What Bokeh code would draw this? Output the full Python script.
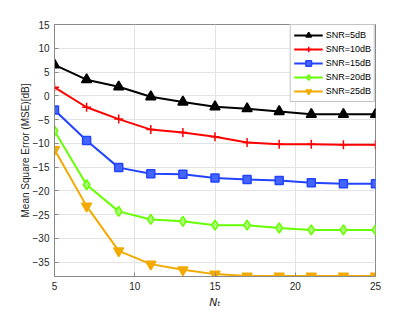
from bokeh.plotting import figure
from bokeh.models import Range1d, FixedTicker, Legend
from bokeh.embed import file_html
from bokeh.resources import INLINE

nt = [5, 7, 9, 11, 13, 15, 17, 19, 21, 23, 25]
snr5 = [6.5, 3.4, 1.9, -0.2, -1.3, -2.3, -2.7, -3.3, -3.9, -3.9, -3.9]
snr10 = [1.8, -2.4, -4.9, -7.1, -7.7, -8.6, -9.8, -10.2, -10.2, -10.3, -10.3]
snr15 = [-3.0, -9.4, -15.1, -16.4, -16.5, -17.3, -17.6, -17.8, -18.3, -18.5, -18.5]
snr20 = [-7.4, -18.7, -24.3, -26.0, -26.4, -27.2, -27.2, -27.8, -28.2, -28.2, -28.2]
snr25 = [-11.3, -23.2, -32.6, -35.4, -36.6, -37.5, -37.9, -37.9, -37.9, -37.9, -37.9]
labels = ["SNR=5dB", "SNR=10dB", "SNR=15dB", "SNR=20dB", "SNR=25dB"]
xticks = [5, 10, 15, 20, 25]
yticks = [-35, -30, -25, -20, -15, -10, -5, 0, 5, 10, 15]

FONT = "Liberation Sans"

p = figure(width=405, height=313, output_backend="svg", toolbar_location=None,
           x_range=Range1d(5, 25), y_range=Range1d(-38, 15),
           min_border_left=54, min_border_right=30, min_border_top=24, min_border_bottom=37)
p.background_fill_color = "white"
p.border_fill_color = "white"
p.outline_line_color = "#8a8a8a"
p.outline_line_width = 1

for ax in (p.xaxis[0], p.yaxis[0]):
    ax.major_label_text_font = FONT
    ax.major_label_text_font_size = "10px"
    ax.major_label_text_color = "#262626"
    ax.axis_line_color = "#8a8a8a"
    ax.major_tick_line_color = "#8a8a8a"
    ax.major_tick_in = 4
    ax.major_tick_out = 0
    ax.minor_tick_line_color = None
p.xaxis.ticker = FixedTicker(ticks=xticks)
p.yaxis.ticker = FixedTicker(ticks=yticks)
p.xaxis.major_label_standoff = 5
p.yaxis.major_label_standoff = 5
p.xaxis.axis_label = "N\u209c"
p.xaxis.axis_label_text_font = "DejaVu Sans"
p.xaxis.axis_label_text_font_size = "11px"
p.xaxis.axis_label_text_font_style = "italic"
p.xaxis.axis_label_text_color = "#262626"
p.xaxis.axis_label_standoff = 3
p.yaxis.axis_label = "Mean Square Error (MSE)[dB]"
p.yaxis.axis_label_text_font = FONT
p.yaxis.axis_label_text_font_size = "10px"
p.yaxis.axis_label_text_font_style = "normal"
p.yaxis.axis_label_text_color = "#262626"
p.yaxis.axis_label_standoff = -1

p.xgrid.ticker = FixedTicker(ticks=xticks)
p.ygrid.ticker = FixedTicker(ticks=yticks)
p.grid.grid_line_color = "#e3e3e3"
p.grid.grid_line_width = 1

series = [snr5, snr10, snr15, snr20, snr25]
colors = ["#000000", "#ff0000", "#2244ff", "#66ff00", "#f2aa00"]
fills = ["#000000", "#ff0000", "#4466ff", "#aaff77", "#f2aa00"]
markers = ["triangle", "cross", "square", "diamond", "inverted_triangle"]
sizes = [10, 9, 8, 10, 10]

items = []
for ys, c, f, m, s, lab in zip(series, colors, fills, markers, sizes, labels):
    r1 = p.line(nt, ys, line_color=c, line_width=2)
    r2 = p.scatter(nt, ys, marker=m, size=s, line_color=c, fill_color=f, line_width=1.5)
    items.append((lab, [r1, r2]))

legend = Legend(items=items, location="top_right")
legend.margin = 0
legend.padding = 3
legend.spacing = 0
legend.glyph_width = 29
legend.glyph_height = 14
legend.label_height = 14
legend.label_standoff = 3
legend.label_text_font = FONT
legend.label_text_font_size = "9px"
legend.label_text_color = "#000000"
legend.border_line_color = "#8a8a8a"
legend.border_line_width = 1
legend.background_fill_color = "white"
legend.background_fill_alpha = 1
p.add_layout(legend, "center")

open("out.html", "w").write(file_html(p, INLINE))
